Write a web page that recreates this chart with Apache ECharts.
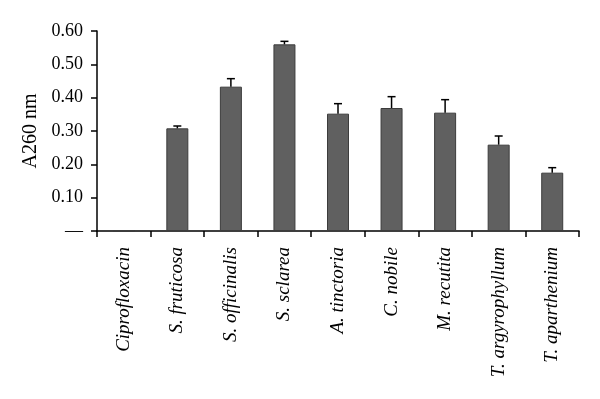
<!DOCTYPE html>
<html lang="en">
<head>
    <meta charset="UTF-8">
    <title>A260 nm</title>
    <script src="https://cdn.jsdelivr.net/npm/echarts@6/dist/echarts.min.js"></script>
</head>
<body style="margin:0;">
<div id="main" style="width:600px; height:399px;"></div>
</body>
<script type="text/javascript">

    // categories and values
    let categories = ['Ciprofloxacin', 'S. fruticosa', 'S. officinalis', 'S. sclarea', 'A. tinctoria',
        'C. nobile', 'M. recutita', 'T. argyrophyllum', 'T. aparthenium'];
    let values = [0, 0.308, 0.433, 0.560, 0.352, 0.369, 0.355, 0.259, 0.175];
    let errors = [0, 0.007, 0.024, 0.009, 0.030, 0.034, 0.039, 0.026, 0.015];

    let myChart = echarts.init(document.getElementById('main'));

    let errData = [];
    for (let i = 0; i < categories.length; i++) {
        if (errors[i] > 0) errData.push([i, values[i], values[i] + errors[i]]);
    }

    let option = {
        animation: false,
        grid: { left: 97, right: 21, top: 31, bottom: 168 },
        xAxis: {
            type: 'category',
            data: categories,
            axisLine: { lineStyle: { color: '#000', width: 1.5 } },
            axisTick: { show: true, length: 6, lineStyle: { color: '#000', width: 1.5 } },
            axisLabel: {
                interval: 0,
                rotate: 90,
                margin: 16,
                color: '#000',
                fontFamily: 'Liberation Serif',
                fontStyle: 'italic',
                fontSize: 19
            }
        },
        yAxis: {
            type: 'value',
            min: 0,
            max: 0.6,
            interval: 0.1,
            name: 'A260 nm',
            nameLocation: 'middle',
            nameGap: 56,
            nameTextStyle: { color: '#000', fontFamily: 'Liberation Serif', fontSize: 20 },
            splitLine: { show: false },
            axisLine: { show: true, lineStyle: { color: '#000', width: 1.5 } },
            axisTick: { show: true, length: 6, lineStyle: { color: '#000', width: 1.5 } },
            axisLabel: {
                color: '#000',
                fontFamily: 'Liberation Serif',
                fontSize: 18,
                margin: 14,
                formatter: function (v) { return v === 0 ? '—' : v.toFixed(2); }
            }
        },
        series: [{
            type: 'bar',
            data: values,
            barWidth: 22,
            itemStyle: { color: '#606060', borderColor: '#3c3c3c', borderWidth: 1 }
        }, {
            type: 'custom',
            data: errData,
            z: 3,
            renderItem: function (params, api) {
                let top = api.coord([api.value(0), api.value(2)]);
                let base = api.coord([api.value(0), api.value(1)]);
                let style = { stroke: '#000', lineWidth: 1.5 };
                return {
                    type: 'group',
                    children: [
                        { type: 'line', shape: { x1: top[0], y1: top[1], x2: base[0], y2: base[1] }, style: style },
                        { type: 'line', shape: { x1: top[0] - 4, y1: top[1], x2: top[0] + 4, y2: top[1] }, style: style }
                    ]
                };
            }
        }]
    };
    myChart.setOption(option);
</script>
</html>
